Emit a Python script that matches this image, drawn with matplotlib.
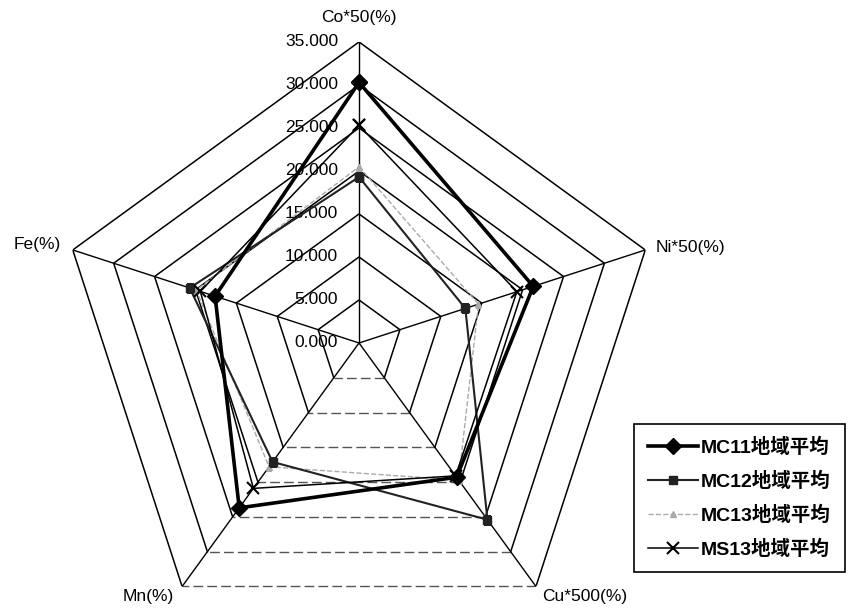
import numpy as np
import matplotlib
matplotlib.use('Agg')
import matplotlib.pyplot as plt
from matplotlib.transforms import offset_copy

plt.rcParams['font.family'] = ['Liberation Sans', 'Noto Sans CJK JP']

# axes go clockwise from the top
axis_labels = ['Co*50(%)', 'Ni*50(%)', 'Cu*500(%)', 'Mn(%)', 'Fe(%)']
series_names = ['MC11地域平均', 'MC12地域平均', 'MC13地域平均', 'MS13地域平均']
mc11 = [30.3, 21.3, 19.3, 23.7, 17.6]
mc12 = [19.3, 13.0, 25.4, 17.1, 20.7]
mc13 = [20.5, 14.6, 19.7, 17.8, 19.9]
ms13 = [25.3, 19.3, 19.1, 20.9, 19.4]
r_ticks = [0, 5, 10, 15, 20, 25, 30, 35]

fig = plt.figure(figsize=(8.52, 6.10), dpi=100)
ax = fig.add_axes([0.0681, -0.0557, 0.7066, 0.9869], projection='polar')
ax.set_theta_offset(np.pi / 2)
ax.set_theta_direction(-1)
ax.set_ylim(0, 35)
ax.axis('off')

theta = np.arange(5) * 2 * np.pi / 5

# pentagon rings, the bottom edge comes out broken/grey
ring_order = [3, 4, 0, 1, 2]
for r in r_ticks[1:]:
    ax.plot(theta[ring_order], [r] * 5, color='black', lw=1.1, zorder=1)
    ax.plot(theta[[2, 3]], [r, r], color='#555555', lw=1.0, ls=(0, (7, 3)), zorder=1)

for t in theta:
    ax.plot([t, t], [0, 35], color='black', lw=1.0, zorder=1)

# value labels along the Co axis
lab_tr = offset_copy(ax.transData, fig=fig, x=-21, y=0, units='dots')
for v in r_ticks:
    ax.text(0, v, f'{v:.3f}', transform=lab_tr, ha='right', va='center', fontsize=12.5)

# axis names
name_offsets = [(0, 24, 'center'), (10, 2, 'left'), (6, -10, 'left'),
                (-8, -10, 'right'), (-12, 5, 'right')]
for t, name, (dx, dy, ha) in zip(theta, axis_labels, name_offsets):
    tr = offset_copy(ax.transData, fig=fig, x=dx, y=dy, units='dots')
    ax.text(t, 35, name, transform=tr, ha=ha, va='center', fontsize=12.5)

closed = np.append(theta, theta[0])


def close(vals):
    return vals + vals[:1]


h1, = ax.plot(closed, close(mc11), color='black', lw=2.6, marker='D', ms=8,
              label=series_names[0], zorder=5)
h2, = ax.plot(closed, close(mc12), color='#222222', lw=1.5, marker='s', ms=6,
              label=series_names[1], zorder=4)
h3, = ax.plot(closed, close(mc13), color='#aaaaaa', lw=1.0, ls='--', marker='^', ms=4,
              label=series_names[2], zorder=3)
h4, = ax.plot(closed, close(ms13), color='black', lw=1.1, marker='x', ms=9, mew=1.5,
              label=series_names[3], zorder=4)

leg = fig.legend(handles=[h1, h2, h3, h4], loc='upper left',
                 bbox_to_anchor=(634 / 852, 1 - 424 / 610), borderaxespad=0,
                 fancybox=False, edgecolor='black', framealpha=1, borderpad=0.7,
                 labelspacing=0.75, handlelength=2.6, handletextpad=0.15,
                 prop={'family': ['Liberation Sans', 'Noto Sans CJK JP'],
                       'size': 14, 'weight': 'bold'})
leg.get_frame().set_linewidth(1.2)

fig.savefig('out.png', dpi=100)
